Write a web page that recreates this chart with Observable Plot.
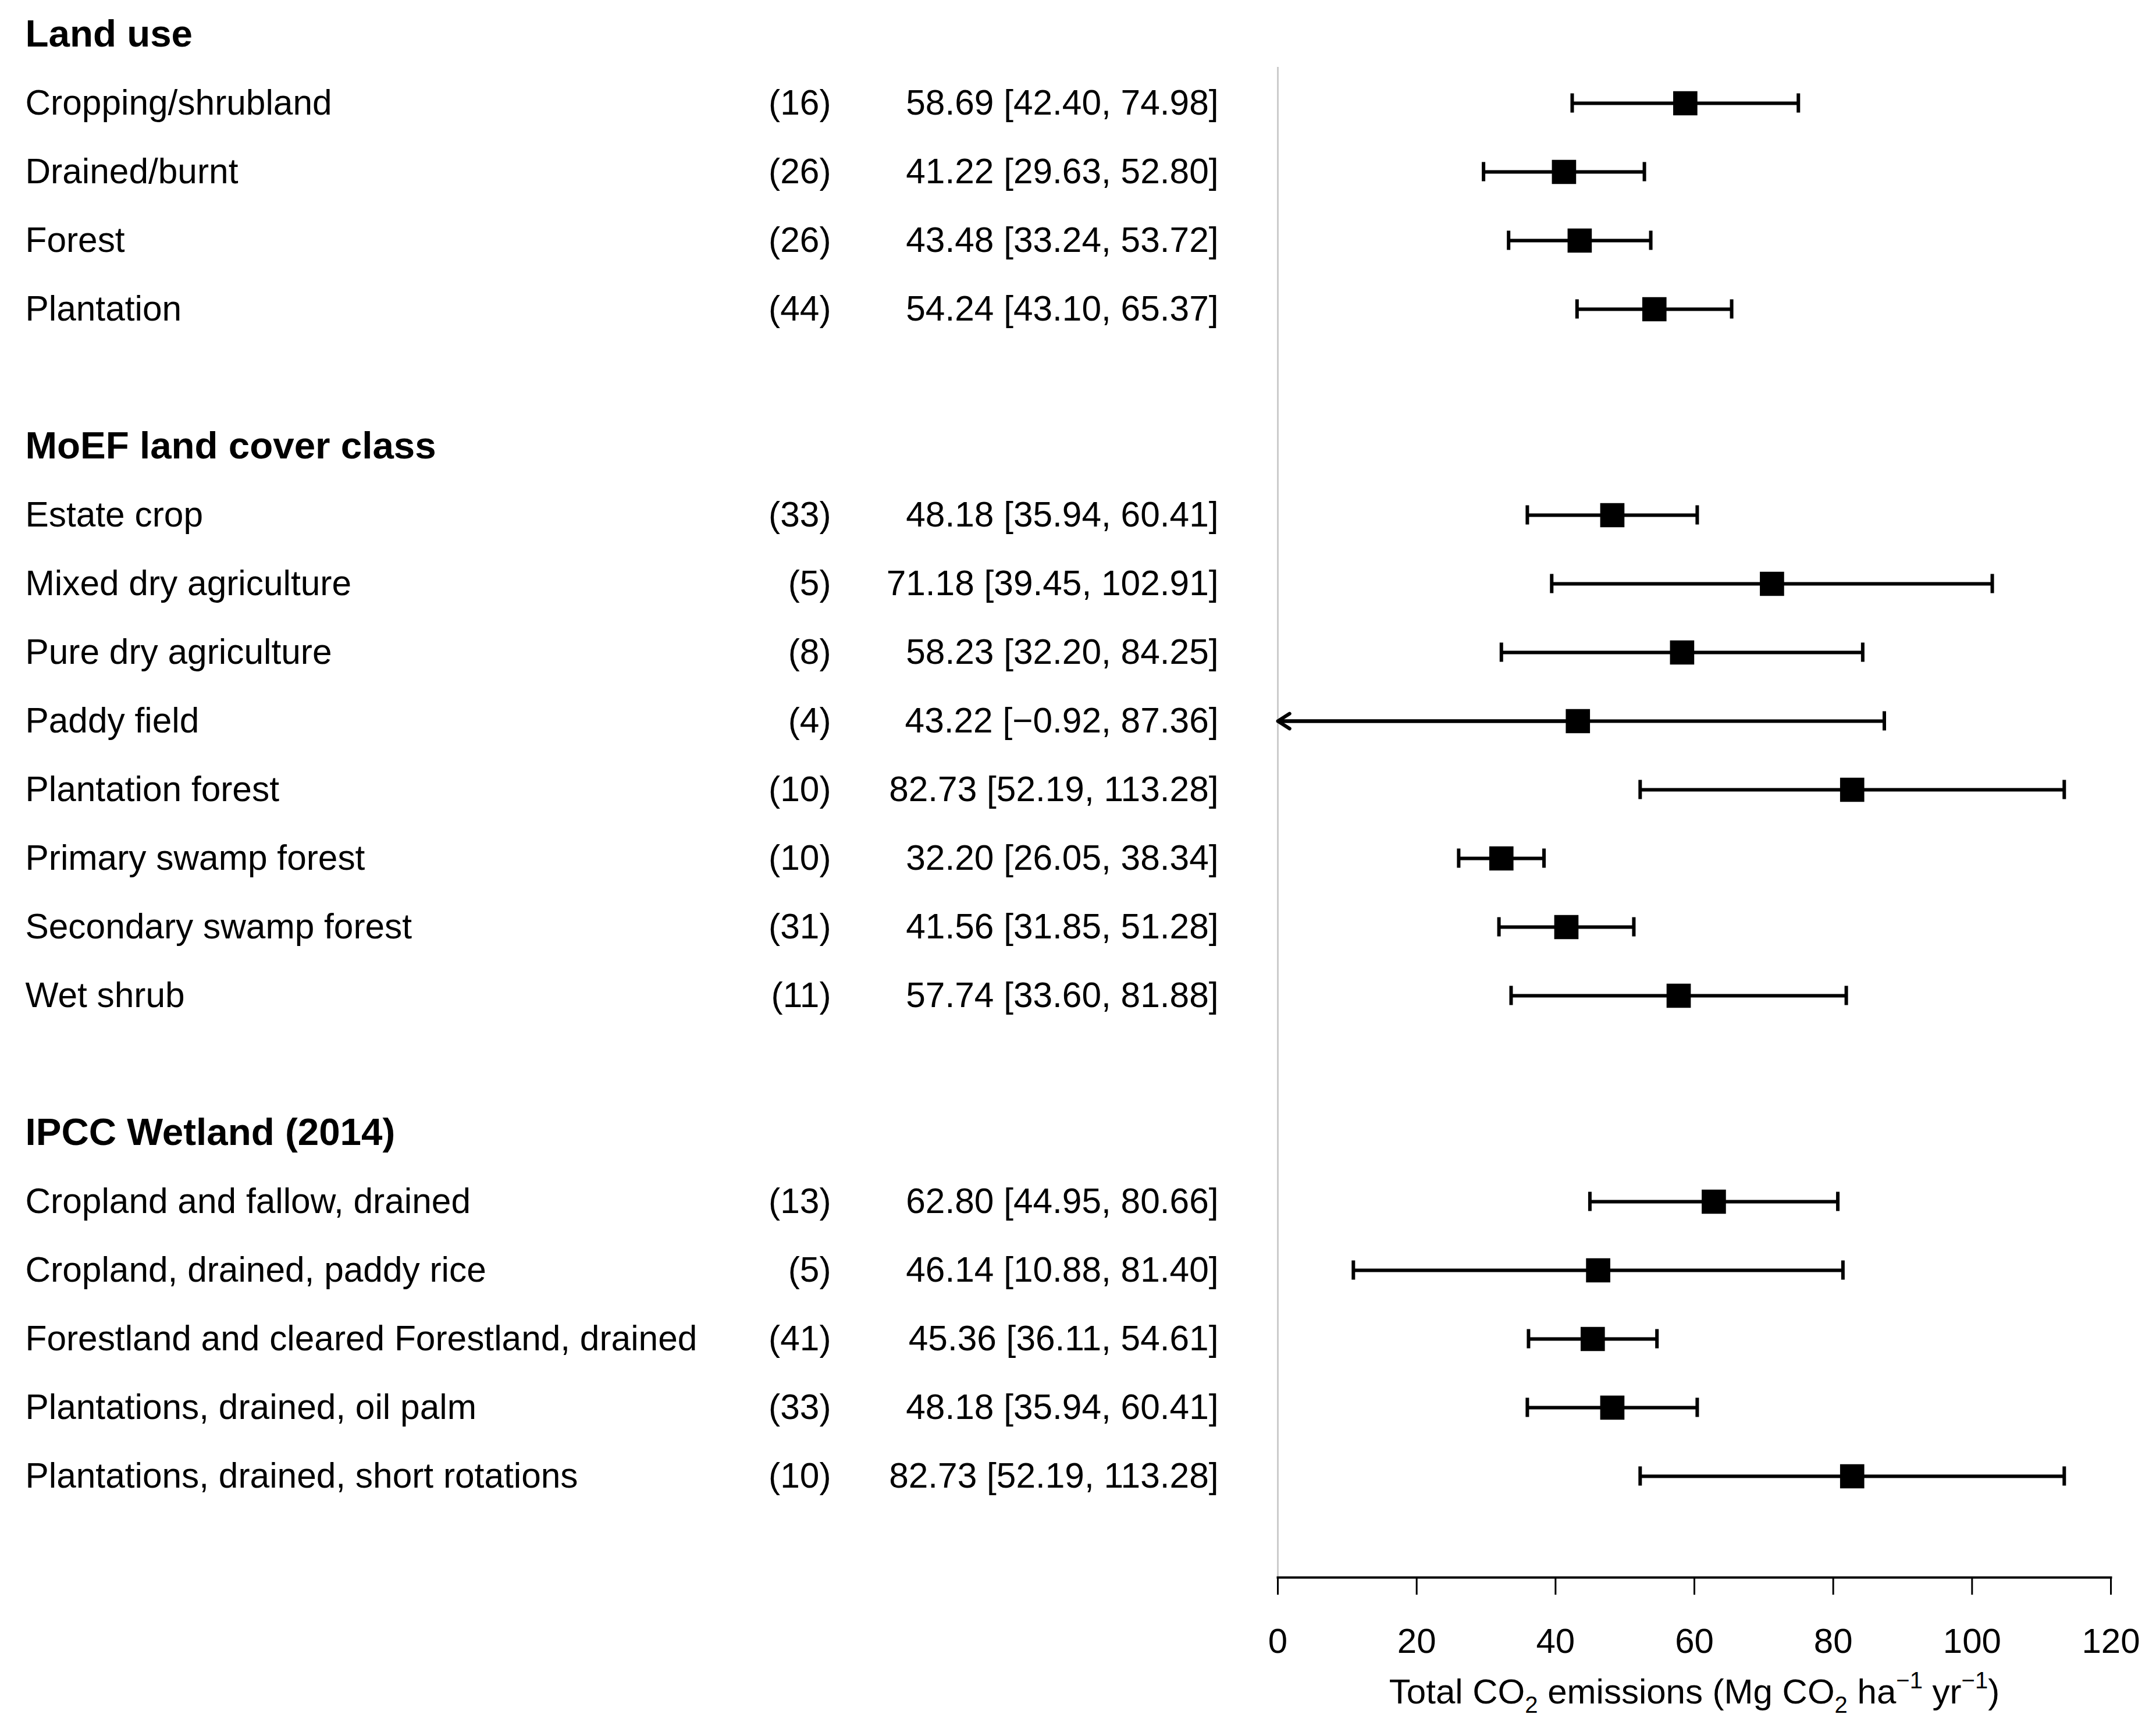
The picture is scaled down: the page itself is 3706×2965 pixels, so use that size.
<!DOCTYPE html>
<html>
<head>
<meta charset="utf-8">
<script src="https://cdn.jsdelivr.net/npm/d3@7"></script>
<script src="https://cdn.jsdelivr.net/npm/@observablehq/plot@0.6"></script>
<style>
  html, body { margin: 0; padding: 0; background: #ffffff; }
  #chart svg { display: block; }
</style>
</head>
<body>
<div id="chart"></div>
<script>
// ---- Data ----
const groupTitles = ["Land use", "MoEF land cover class", "IPCC Wetland (2014)"];

const landUseLabels = ["Cropping/shrubland", "Drained/burnt", "Forest", "Plantation"];
const landUseN      = [16, 26, 26, 44];
const landUseMean   = [58.69, 41.22, 43.48, 54.24];
const landUseLower  = [42.40, 29.63, 33.24, 43.10];
const landUseUpper  = [74.98, 52.80, 53.72, 65.37];

const moefLabels = ["Estate crop", "Mixed dry agriculture", "Pure dry agriculture", "Paddy field",
                    "Plantation forest", "Primary swamp forest", "Secondary swamp forest", "Wet shrub"];
const moefN      = [33, 5, 8, 4, 10, 10, 31, 11];
const moefMean   = [48.18, 71.18, 58.23, 43.22, 82.73, 32.20, 41.56, 57.74];
const moefLower  = [35.94, 39.45, 32.20, -0.92, 52.19, 26.05, 31.85, 33.60];
const moefUpper  = [60.41, 102.91, 84.25, 87.36, 113.28, 38.34, 51.28, 81.88];

const ipccLabels = ["Cropland and fallow, drained", "Cropland, drained, paddy rice",
                    "Forestland and cleared Forestland, drained", "Plantations, drained, oil palm",
                    "Plantations, drained, short rotations"];
const ipccN      = [13, 5, 41, 33, 10];
const ipccMean   = [62.80, 46.14, 45.36, 48.18, 82.73];
const ipccLower  = [44.95, 10.88, 36.11, 35.94, 52.19];
const ipccUpper  = [80.66, 81.40, 54.61, 60.41, 113.28];

const xTicks = [0, 20, 40, 60, 80, 100, 120];
const axisTitle = "Total CO\u2082 emissions (Mg CO\u2082 ha\u207B\u00B9 yr\u207B\u00B9)";

// ---- Build table ----
const groups = [
  {title: groupTitles[0], labels: landUseLabels, n: landUseN, mean: landUseMean, lower: landUseLower, upper: landUseUpper},
  {title: groupTitles[1], labels: moefLabels, n: moefN, mean: moefMean, lower: moefLower, upper: moefUpper},
  {title: groupTitles[2], labels: ipccLabels, n: ipccN, mean: ipccMean, lower: ipccLower, upper: ipccUpper}
];
const headers = [];
const rows = [];
let r = 0;
groups.forEach(g => {
  headers.push({row: r, title: g.title});
  r++;
  g.labels.forEach((lab, i) => {
    rows.push({row: r, label: lab, n: g.n[i], mean: g.mean[i], lower: g.lower[i], upper: g.upper[i]});
    r++;
  });
  r++; // blank spacer row
});
const lastRow = rows[rows.length - 1].row;

const fmt = v => (v < 0 ? "\u2212" + Math.abs(v).toFixed(2) : v.toFixed(2));
const capHalf = 0.14;
const SW = 6;

const W = 3706, H = 2965;
const mLeft = 2196, mRight = 78, mTop = 115, mBottom = 254;

const chart = Plot.plot({
  width: W,
  height: H,
  marginLeft: mLeft,
  marginRight: mRight,
  marginTop: mTop,
  marginBottom: mBottom,
  style: {fontFamily: "'Liberation Sans', Arial, sans-serif", fontSize: "60px", background: "#ffffff", color: "#000000"},
  x: {domain: [0, 120], axis: null},
  y: {domain: [0, lastRow], range: [59, 59 + lastRow * 118], axis: null},
  marks: [
    Plot.ruleX([0], {stroke: "#cccccc", strokeWidth: 3}),
    Plot.frame({anchor: "bottom", stroke: "#000000", strokeWidth: 4}),
    Plot.axisX({ticks: xTicks, tickSize: 30, tickPadding: 57, fontSize: 60, strokeWidth: 3,
                tickFormat: d => String(d), label: null, stroke: "#000000", fill: "#000000"}),
    Plot.text([axisTitle], {frameAnchor: "bottom", dy: 216, fontSize: 60, fill: "#000000"}),
    // whiskers
    Plot.ruleY(rows, {y: "row", x1: d => Math.max(d.lower, 0), x2: "upper", stroke: "#000000", strokeWidth: SW}),
    Plot.ruleX(rows.filter(d => d.lower >= 0), {x: "lower", y1: d => d.row - capHalf, y2: d => d.row + capHalf, stroke: "#000000", strokeWidth: SW}),
    Plot.ruleX(rows, {x: "upper", y1: d => d.row - capHalf, y2: d => d.row + capHalf, stroke: "#000000", strokeWidth: SW}),
    Plot.arrow(rows.filter(d => d.lower < 0), {x1: "mean", x2: d => Math.max(d.lower, 0), y1: "row", y2: "row",
               stroke: "#000000", strokeWidth: SW, headLength: 6, headAngle: 65}),
    // point estimates
    Plot.dot(rows, {x: "mean", y: "row", symbol: "square", r: 23.5, fill: "#000000", stroke: "none"}),
    // table text
    Plot.text(headers, {y: "row", text: "title", frameAnchor: "left", dx: 43 - mLeft, textAnchor: "start",
                        fontWeight: "bold", fontSize: 65.5, fill: "#000000"}),
    Plot.text(rows, {y: "row", text: "label", frameAnchor: "left", dx: 43 - mLeft, textAnchor: "start",
                     fontSize: 60.4, fill: "#000000"}),
    Plot.text(rows, {y: "row", text: d => `(${d.n})`, frameAnchor: "left", dx: 1428 - mLeft, textAnchor: "end",
                     fontSize: 60.4, fill: "#000000"}),
    Plot.text(rows, {y: "row", text: d => `${fmt(d.mean)} [${fmt(d.lower)}, ${fmt(d.upper)}]`, frameAnchor: "left",
                     dx: 2094 - mLeft, textAnchor: "end", fontSize: 60.4, fill: "#000000"})
  ]
});

document.getElementById("chart").appendChild(chart);

// Render sub/superscripts in the axis title as real text tspans
d3.select(chart).selectAll("text").filter(function() { return this.textContent === axisTitle; }).each(function() {
  const t = d3.select(this);
  t.text(null);
  const parts = [
    ["Total CO", 0], ["2", 1], [" emissions (Mg CO", 0], ["2", 1], [" ha", 0], ["\u22121", 2], [" yr", 0], ["\u22121", 2], [")", 0]
  ];
  let shift = 0;
  parts.forEach(([s, k]) => {
    const target = k === 1 ? 16 : k === 2 ? -26 : 0;
    const sp = t.append("tspan").attr("dy", target - shift).text(s);
    if (k) sp.attr("font-size", 40);
    shift = target;
  });
});
</script>
</body>
</html>
